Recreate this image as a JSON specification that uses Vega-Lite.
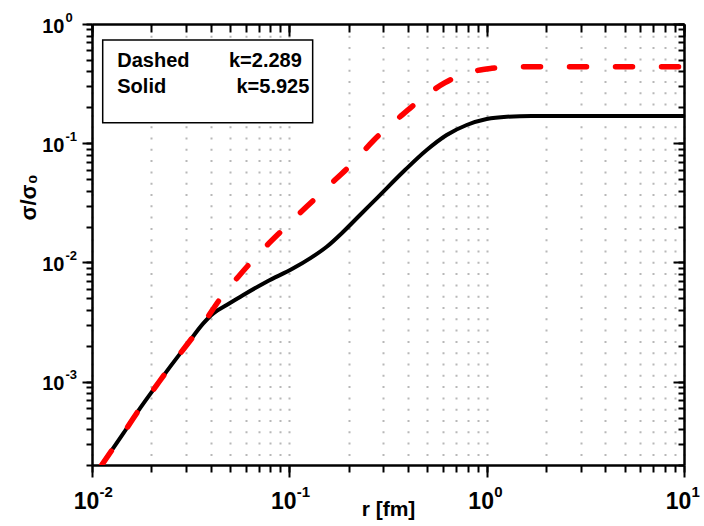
{
  "$schema": "https://vega.github.io/schema/vega-lite/v6.json",
  "width": 592,
  "height": 441,
  "autosize": {"type": "none"},
  "padding": {"left": 92, "top": 24, "right": 20, "bottom": 61},
  "background": "white",
  "config": {"view": {"stroke": null}, "font": "Liberation Sans"},
  "datasets": {
    "curves": [
      {"series": "Solid", "r": 0.0112, "sigma": 0.0002},
      {"series": "Solid", "r": 0.01441, "sigma": 0.000368},
      {"series": "Solid", "r": 0.0175, "sigma": 0.000597},
      {"series": "Solid", "r": 0.02128, "sigma": 0.000936},
      {"series": "Solid", "r": 0.02485, "sigma": 0.00133},
      {"series": "Solid", "r": 0.0302, "sigma": 0.00203},
      {"series": "Solid", "r": 0.03664, "sigma": 0.00308},
      {"series": "Solid", "r": 0.04119, "sigma": 0.00374},
      {"series": "Solid", "r": 0.04815, "sigma": 0.00439},
      {"series": "Solid", "r": 0.05844, "sigma": 0.00533},
      {"series": "Solid", "r": 0.07678, "sigma": 0.00689},
      {"series": "Solid", "r": 0.1047, "sigma": 0.00892},
      {"series": "Solid", "r": 0.1273, "sigma": 0.01082},
      {"series": "Solid", "r": 0.1547, "sigma": 0.01355},
      {"series": "Solid", "r": 0.1877, "sigma": 0.0181},
      {"series": "Solid", "r": 0.2281, "sigma": 0.025},
      {"series": "Solid", "r": 0.2772, "sigma": 0.0345},
      {"series": "Solid", "r": 0.3857, "sigma": 0.0596},
      {"series": "Solid", "r": 0.4968, "sigma": 0.0877},
      {"series": "Solid", "r": 0.6272, "sigma": 0.1172},
      {"series": "Solid", "r": 0.7922, "sigma": 0.1422},
      {"series": "Solid", "r": 1.0, "sigma": 0.1596},
      {"series": "Solid", "r": 1.264, "sigma": 0.1668},
      {"series": "Solid", "r": 1.686, "sigma": 0.169},
      {"series": "Solid", "r": 10, "sigma": 0.169},
      {"series": "Dashed", "r": 0.0112, "sigma": 0.0002},
      {"series": "Dashed", "r": 0.01441, "sigma": 0.000368},
      {"series": "Dashed", "r": 0.0175, "sigma": 0.000597},
      {"series": "Dashed", "r": 0.02128, "sigma": 0.000936},
      {"series": "Dashed", "r": 0.02485, "sigma": 0.00133},
      {"series": "Dashed", "r": 0.0302, "sigma": 0.00203},
      {"series": "Dashed", "r": 0.03664, "sigma": 0.00308},
      {"series": "Dashed", "r": 0.04544, "sigma": 0.00516},
      {"series": "Dashed", "r": 0.05512, "sigma": 0.00759},
      {"series": "Dashed", "r": 0.07244, "sigma": 0.01254},
      {"series": "Dashed", "r": 0.09148, "sigma": 0.01845},
      {"series": "Dashed", "r": 0.1233, "sigma": 0.0297},
      {"series": "Dashed", "r": 0.1565, "sigma": 0.0431},
      {"series": "Dashed", "r": 0.2127, "sigma": 0.07},
      {"series": "Dashed", "r": 0.2664, "sigma": 0.105},
      {"series": "Dashed", "r": 0.3639, "sigma": 0.1668},
      {"series": "Dashed", "r": 0.4595, "sigma": 0.2304},
      {"series": "Dashed", "r": 0.6151, "sigma": 0.3219},
      {"series": "Dashed", "r": 0.7857, "sigma": 0.3859},
      {"series": "Dashed", "r": 1.061, "sigma": 0.425},
      {"series": "Dashed", "r": 1.34, "sigma": 0.4384},
      {"series": "Dashed", "r": 10, "sigma": 0.4384}
    ]
  },
  "resolve": {"axis": {"x": "independent", "y": "independent"}},
  "layer": [
    {
      "data": {"name": "curves"},
      "transform": [{"filter": "datum.series === 'Solid'"}],
      "mark": {"type": "line", "color": "black", "strokeWidth": 4, "interpolate": "monotone", "clip": true},
      "encoding": {
        "x": {
          "field": "r", "type": "quantitative",
          "scale": {"type": "log", "domain": [0.01, 10], "nice": false},
          "axis": {
            "orient": "bottom", "title": null, "labels": false, "domain": false,
            "values": [0.01,0.02,0.03,0.04,0.05,0.06,0.07,0.08,0.09,0.1,0.2,0.3,0.4,0.5,0.6,0.7,0.8,0.9,1,2,3,4,5,6,7,8,9,10],
            "tickSize": 7, "tickWidth": 2, "tickColor": "black",
            "grid": true, "gridColor": "#b8b8b8", "gridWidth": 2, "gridDash": [2, 9.3]
          }
        },
        "y": {
          "field": "sigma", "type": "quantitative",
          "scale": {"type": "log", "domain": [0.0002, 1], "nice": false},
          "axis": {
            "orient": "left", "title": null, "labels": false, "domain": false, "grid": false,
            "values": [0.0002,0.0003,0.0004,0.0005,0.0006,0.0007,0.0008,0.0009,0.001,0.002,0.003,0.004,0.005,0.006,0.007,0.008,0.009,0.01,0.02,0.03,0.04,0.05,0.06,0.07,0.08,0.09,0.1,0.2,0.3,0.4,0.5,0.6,0.7,0.8,0.9,1],
            "tickSize": 6, "tickWidth": 2, "tickColor": "black"
          }
        }
      }
    },
    {
      "data": {"name": "curves"},
      "transform": [{"filter": "datum.series === 'Dashed'"}],
      "mark": {"type": "line", "color": "#ff0000", "strokeWidth": 5.5, "strokeDash": [17, 29], "strokeCap": "round", "interpolate": "monotone", "clip": true},
      "encoding": {
        "x": {
          "field": "r", "type": "quantitative",
          "scale": {"type": "log", "domain": [0.01, 10], "nice": false},
          "axis": {
            "orient": "bottom", "values": [0.01, 0.1, 1, 10],
            "labelExpr": "'10'",
            "labelFont": "Liberation Sans", "labelFontSize": 23, "labelFontWeight": "bold", "labelColor": "black",
            "labelPadding": 13, "labelOffset": -6, "labelAlign": "center", "labelBaseline": "top", "labelFlush": false, "labelOverlap": false,
            "tickSize": 12, "tickWidth": 2, "tickColor": "black",
            "domain": true, "domainColor": "black", "domainWidth": 2.5, "grid": false,
            "title": "r [fm]", "titleFont": "Liberation Sans", "titleFontSize": 21, "titleFontWeight": "bold", "titleColor": "black",
            "titleX": 296, "titleY": 50, "titleBaseline": "alphabetic", "titleAlign": "center"
          }
        },
        "y": {
          "field": "sigma", "type": "quantitative",
          "scale": {"type": "log", "domain": [0.0002, 1], "nice": false},
          "axis": {
            "orient": "left", "values": [0.001, 0.01, 0.1, 1],
            "labelExpr": "'10'",
            "labelFont": "Liberation Sans", "labelFontSize": 20, "labelFontWeight": "bold", "labelColor": "black",
            "labelPadding": 18, "labelAlign": "right", "labelBaseline": "middle", "labelOffset": 2, "labelFlush": false, "labelOverlap": false,
            "tickSize": 10, "tickWidth": 2, "tickColor": "black",
            "domain": true, "domainColor": "black", "domainWidth": 2.5, "grid": false,
            "title": "\u03c3/\u03c3\u2080", "titleFont": "Liberation Sans", "titleFontSize": 22, "titleFontWeight": "bold", "titleColor": "black",
            "titleAngle": -90, "titleX": -57, "titleY": 173, "titleAlign": "center", "titleBaseline": "alphabetic"
          }
        }
      }
    },
    {
      "data": {"values": [{}]},
      "mark": {"type": "rect", "fill": "white", "stroke": "black", "strokeWidth": 1.5},
      "encoding": {
        "x": {
          "datum": 0.01133, "type": "quantitative",
          "scale": {"type": "log", "domain": [0.01, 10], "nice": false},
          "axis": {
            "orient": "top", "title": null, "labels": false, "grid": false,
            "values": [0.01,0.02,0.03,0.04,0.05,0.06,0.07,0.08,0.09,0.1,0.2,0.3,0.4,0.5,0.6,0.7,0.8,0.9,1,2,3,4,5,6,7,8,9,10],
            "tickSize": -8, "tickWidth": 2, "tickColor": "black",
            "domain": true, "domainColor": "black", "domainWidth": 2.5
          }
        },
        "x2": {"datum": 0.1313},
        "y": {
          "datum": 0.734, "type": "quantitative",
          "scale": {"type": "log", "domain": [0.0002, 1], "nice": false},
          "axis": {
            "orient": "right", "title": null, "labels": false, "grid": false,
            "values": [0.0002,0.0003,0.0004,0.0005,0.0006,0.0007,0.0008,0.0009,0.001,0.002,0.003,0.004,0.005,0.006,0.007,0.008,0.009,0.01,0.02,0.03,0.04,0.05,0.06,0.07,0.08,0.09,0.1,0.2,0.3,0.4,0.5,0.6,0.7,0.8,0.9,1],
            "tickSize": -6, "tickWidth": 2, "tickColor": "black",
            "domain": true, "domainColor": "black", "domainWidth": 2.5
          }
        },
        "y2": {"datum": 0.1486}
      }
    },
    {
      "data": {"values": [{}]},
      "mark": {"type": "text", "align": "left", "baseline": "alphabetic", "font": "Liberation Sans", "fontSize": 20, "fontWeight": "bold", "color": "black"},
      "encoding": {
        "x": {
          "datum": 0.01343, "type": "quantitative",
          "scale": {"type": "log", "domain": [0.01, 10], "nice": false},
          "axis": {
            "orient": "top", "title": null, "labels": false, "grid": false, "domain": false,
            "values": [0.01, 0.1, 1, 10],
            "tickSize": -12, "tickWidth": 2, "tickColor": "black"
          }
        },
        "y": {
          "datum": 0.44, "type": "quantitative",
          "scale": {"type": "log", "domain": [0.0002, 1], "nice": false},
          "axis": {
            "orient": "right", "title": null, "labels": false, "grid": false, "domain": false,
            "values": [0.001, 0.01, 0.1, 1],
            "tickSize": -11, "tickWidth": 2, "tickColor": "black"
          }
        },
        "text": {"value": "Dashed"}
      }
    },
    {
      "data": {"values": [{}]},
      "mark": {"type": "text", "align": "left", "baseline": "alphabetic", "font": "Liberation Sans", "fontSize": 20, "fontWeight": "bold", "color": "black"},
      "encoding": {
        "x": {
          "datum": 0.04945, "type": "quantitative",
          "scale": {"type": "log", "domain": [0.01, 10], "nice": false},
          "axis": {
            "orient": "bottom", "title": null, "grid": false, "domain": false, "ticks": false, "tickSize": 0,
            "values": [0.01, 0.1, 1, 10],
            "labelExpr": "datum.value < 0.05 ? '-2' : datum.value < 0.5 ? '-1' : datum.value < 5 ? '0' : '1'",
            "labelFont": "Liberation Sans", "labelFontSize": 15, "labelFontWeight": "bold", "labelColor": "black",
            "labelPadding": 19, "labelOffset": 7, "labelAlign": "left", "labelBaseline": "top", "labelFlush": false, "labelOverlap": false
          }
        },
        "y": {
          "datum": 0.44, "type": "quantitative",
          "scale": {"type": "log", "domain": [0.0002, 1], "nice": false},
          "axis": {
            "orient": "left", "title": null, "grid": false, "domain": false, "ticks": false, "tickSize": 0,
            "values": [0.001, 0.01, 0.1, 1],
            "labelExpr": "datum.value < 0.005 ? '-3' : datum.value < 0.05 ? '-2' : datum.value < 0.5 ? '-1' : '0'",
            "labelFont": "Liberation Sans", "labelFontSize": 13, "labelFontWeight": "bold", "labelColor": "black",
            "labelPadding": 27, "labelOffset": -7, "labelAlign": "left", "labelBaseline": "middle", "labelFlush": false, "labelOverlap": false
          }
        },
        "text": {"value": "k=2.289"}
      }
    },
    {
      "data": {"values": [{}]},
      "mark": {"type": "text", "align": "left", "baseline": "alphabetic", "font": "Liberation Sans", "fontSize": 20, "fontWeight": "bold", "color": "black"},
      "encoding": {
        "x": {"datum": 0.01343, "type": "quantitative", "axis": null},
        "y": {"datum": 0.2653, "type": "quantitative", "axis": null},
        "text": {"value": "Solid"}
      }
    },
    {
      "data": {"values": [{}]},
      "mark": {"type": "text", "align": "left", "baseline": "alphabetic", "font": "Liberation Sans", "fontSize": 20, "fontWeight": "bold", "color": "black"},
      "encoding": {
        "x": {"datum": 0.05398, "type": "quantitative", "axis": null},
        "y": {"datum": 0.2653, "type": "quantitative", "axis": null},
        "text": {"value": "k=5.925"}
      }
    }
  ]
}
